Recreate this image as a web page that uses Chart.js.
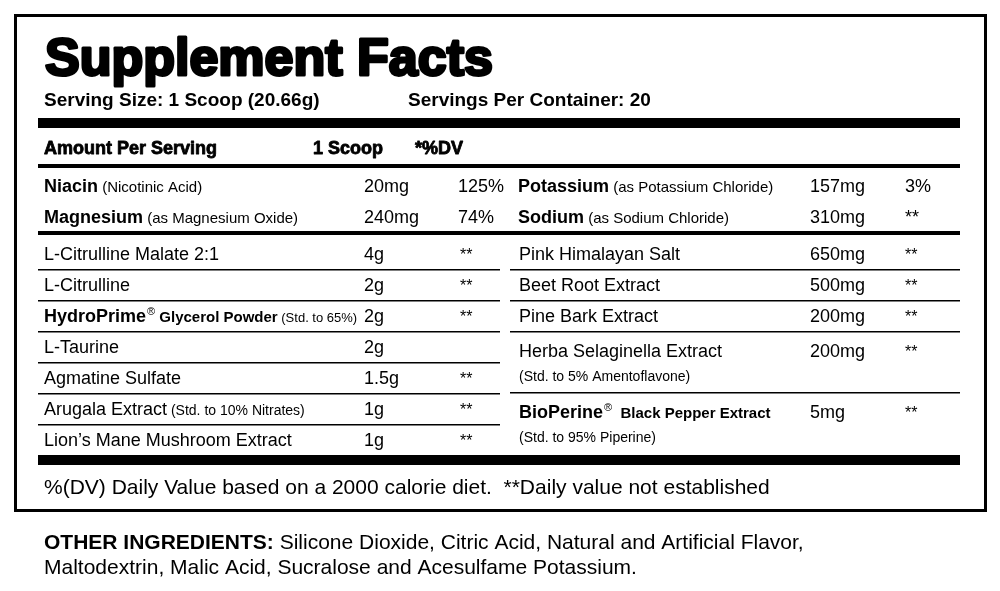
<!DOCTYPE html>
<html>
<head>
<meta charset="utf-8">
<script src="https://cdn.jsdelivr.net/npm/chart.js@4.4.1/dist/chart.umd.min.js"></script>
<style>
  html, body { margin: 0; padding: 0; background: #fff; }
  #wrap { width: 1000px; height: 591px; }
</style>
</head>
<body>
<div id="wrap"><canvas id="label"></canvas></div>
<script>
const title = 'Supplement Facts';
const servingSize = 'Serving Size: 1 Scoop (20.66g)';
const servingsPer = 'Servings Per Container: 20';
const headers = ['Amount Per Serving', '1 Scoop', '*%DV'];

// vitamins / minerals: [bold name, note, amount, dv]
const topLeft = [
  ['Niacin', ' (Nicotinic Acid)', '20mg', '125%'],
  ['Magnesium', ' (as Magnesium Oxide)', '240mg', '74%']
];
const topRight = [
  ['Potassium', ' (as Potassium Chloride)', '157mg', '3%'],
  ['Sodium', ' (as Sodium Chloride)', '310mg', '**']
];

// blend rows
const leftNames = ['L-Citrulline Malate 2:1', 'L-Citrulline', 'HydroPrime', 'L-Taurine', 'Agmatine Sulfate', 'Arugala Extract', 'Lion\u2019s Mane Mushroom Extract'];
const leftNotes = ['', '', ' Glycerol Powder', '', '', ' (Std. to 10% Nitrates)', ''];
const leftAmounts = ['4g', '2g', '2g', '2g', '1.5g', '1g', '1g'];
const leftDV = ['**', '**', '**', '', '**', '**', '**'];

const rightNames = ['Pink Himalayan Salt', 'Beet Root Extract', 'Pine Bark Extract', 'Herba Selaginella Extract', 'BioPerine'];
const rightSubs = ['', '', '', '(Std. to 5% Amentoflavone)', '(Std. to 95% Piperine)'];
const rightAmounts = ['650mg', '500mg', '200mg', '200mg', '5mg'];
const rightDV = ['**', '**', '**', '**', '**'];

const footnote = '%(DV) Daily Value based on a 2000 calorie diet.  **Daily value not established';
const otherIngredients = ['Silicone Dioxide, Citric Acid, Natural and Artificial Flavor,', 'Maltodextrin, Malic Acid, Sucralose and Acesulfame Potassium.'];

const F = '"Liberation Sans", Arial, sans-serif';

const labelPlugin = {
  id: 'labelPlugin',
  afterDraw(chart) {
    const c = chart.ctx;
    c.save();
    c.fillStyle = '#000';
    c.strokeStyle = '#000';
    c.textBaseline = 'alphabetic';
    const txt = (s, x, y, font, maxW, stroke) => {
      c.font = font;
      if (maxW) c.fillText(s, x, y, maxW); else c.fillText(s, x, y);
      if (stroke) { c.lineWidth = stroke; c.lineJoin = 'round'; if (maxW) c.strokeText(s, x, y, maxW); else c.strokeText(s, x, y); }
      return x + Math.min(c.measureText(s).width, maxW || 1e9);
    };
    const sup = (x, y) => txt('\u00AE', x, y - 7, '11px ' + F);
    const bar = (x1, x2, y, h) => c.fillRect(x1, y, x2 - x1, h);

    // outer box
    c.lineWidth = 3;
    c.strokeRect(15.5, 15.5, 970, 495);

    txt(title, 45, 75, 'bold 52px ' + F, 450, 3);
    txt(servingSize, 44, 106, 'bold 19px ' + F, 308);
    txt(servingsPer, 408, 106, 'bold 19px ' + F);
    bar(38, 960, 118, 10);

    txt(headers[0], 44, 154, 'bold 18px ' + F, 192, 0.8);
    txt(headers[1], 313, 154, 'bold 18px ' + F, null, 0.8);
    txt(headers[2], 415, 154, 'bold 18px ' + F, null, 0.8);
    bar(38, 960, 164, 4);

    topLeft.forEach((r, i) => {
      const y = 192 + i * 31;
      let x = txt(r[0], 44, y, 'bold 18px ' + F);
      txt(r[1], x, y, '15px ' + F);
      txt(r[2], 364, y, '18px ' + F);
      txt(r[3], 458, y, '18px ' + F);
    });
    topRight.forEach((r, i) => {
      const y = 192 + i * 31;
      let x = txt(r[0], 518, y, 'bold 18px ' + F);
      txt(r[1], x, y, '15px ' + F);
      txt(r[2], 810, y, '18px ' + F);
      txt(r[3], 905, y, '18px ' + F);
    });
    bar(38, 960, 231, 4);

    leftNames.forEach((n, i) => {
      const y = 260 + i * 31;
      let x;
      if (n === 'HydroPrime') {
        x = txt(n, 44, y, 'bold 18px ' + F);
        x = sup(x + 1, y);
        x = txt(leftNotes[i], x, y, 'bold 15px ' + F);
        txt(' (Std. to 65%)', x, y, '13px ' + F);
      } else {
        x = txt(n, 44, y, '18px ' + F);
        if (leftNotes[i]) txt(leftNotes[i], x, y, '14px ' + F);
      }
      txt(leftAmounts[i], 364, y, '18px ' + F);
      txt(leftDV[i], 460, y, '16px ' + F);
      if (i < leftNames.length - 1) bar(38, 500, y + 9, 1.5);
    });

    const rightY = [260, 291, 322, 357, 418];
    rightNames.forEach((n, i) => {
      const y = rightY[i];
      if (n === 'BioPerine') {
        let x = txt(n, 519, y, 'bold 18px ' + F);
        x = sup(x + 1, y);
        txt('  Black Pepper Extract', x, y, 'bold 15px ' + F);
      } else {
        txt(n, 519, y, '18px ' + F);
      }
      if (rightSubs[i]) txt(rightSubs[i], 519, y + 24, '14px ' + F);
      txt(rightAmounts[i], 810, y, '18px ' + F);
      txt(rightDV[i], 905, y, '16px ' + F);
    });
    [269, 300, 331, 392].forEach(y => bar(510, 960, y, 1.5));

    bar(38, 960, 455, 10);
    txt(footnote, 44, 494, '21px ' + F, 726);

    let x = txt('OTHER INGREDIENTS: ', 44, 549, 'bold 21px ' + F, 250);
    txt(otherIngredients[0], x, 549, '21px ' + F, 850 - x);
    txt(otherIngredients[1], 44, 574, '21px ' + F, 624);
    c.restore();
  }
};

new Chart(document.getElementById('label'), {
  type: 'bar',
  data: { labels: [], datasets: [{ data: [] }] },
  options: {
    responsive: true,
    maintainAspectRatio: false,
    animation: false,
    events: [],
    layout: { padding: 0 },
    plugins: { legend: { display: false }, tooltip: { enabled: false } },
    scales: { x: { display: false }, y: { display: false } }
  },
  plugins: [labelPlugin]
});
</script>
</body>
</html>
